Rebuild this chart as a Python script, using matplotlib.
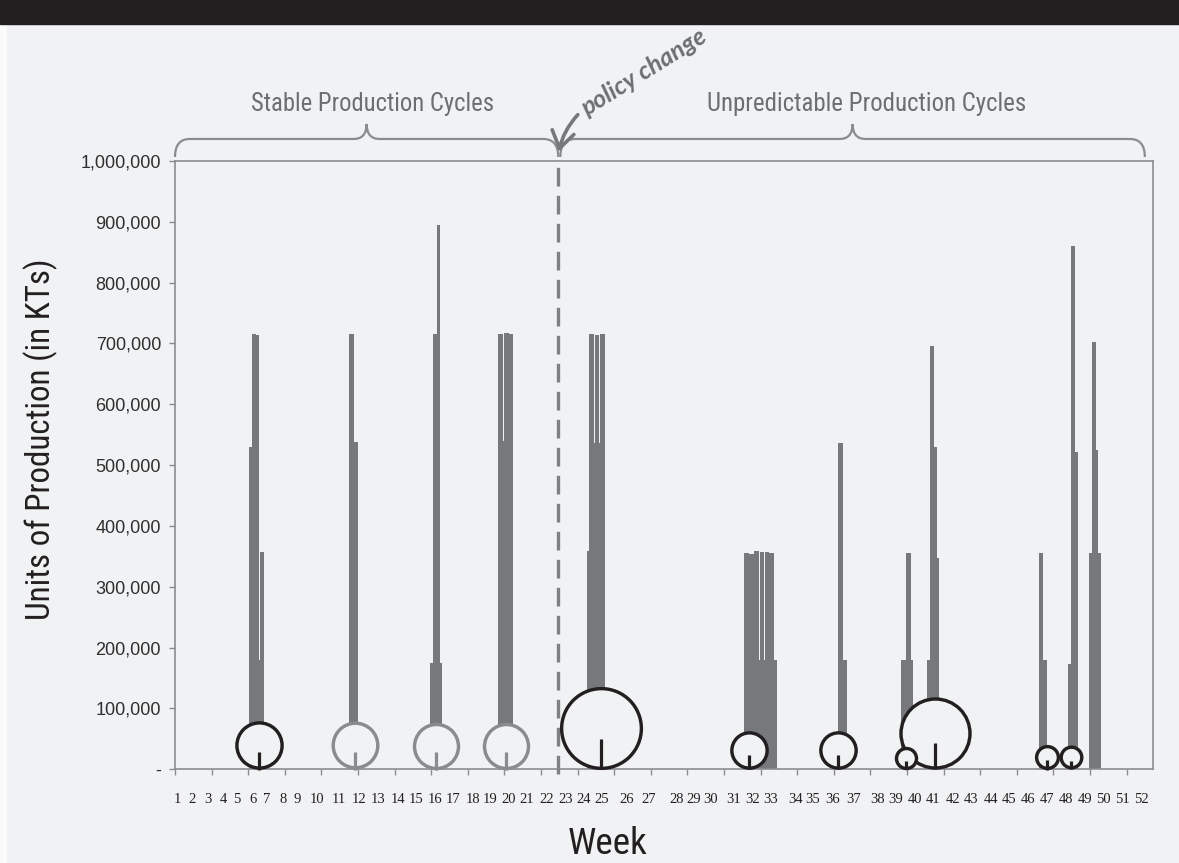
"""Weekly production runs before/after the policy change (needle bars + changeover bubbles)."""

import matplotlib
matplotlib.use("Agg")
import matplotlib.pyplot as plt
import numpy as np
from matplotlib import font_manager as fm
from matplotlib import transforms
from matplotlib.patches import FancyArrowPatch, PathPatch, Rectangle
from matplotlib.path import Path
from matplotlib.ticker import FuncFormatter, MultipleLocator

W, H = 1179, 863
BG = "#f1f2f4"
BAR = "#77787b"
INK = "#231f20"
TXT_GREY = "#6d6e71"
LINE_GREY = "#8b8c8e"
RING_GREY = "#8a8b8d"

# ── data ───────────────────────────────────────────────────────────────────
# production runs: start day, run length (days), units produced
RUN_START = [28.4, 29.55, 30.9, 32.25, 32.6,
             66.7, 68.5,
             97.55, 98.6, 100.1,
             123.7, 123.7, 125.85, 127.6,
             157.5, 158.5, 158.5, 160.65, 162.45,
             217.7, 217.7, 219.65, 221.6, 223.6, 225.7, 227.35,
             253.5, 255.4,
             277.6, 279.6, 287.8, 288.8, 290.4, 291.4,
             330.6, 330.6, 341.7, 342.6, 344.4, 349.8, 350.8, 352.3]
RUN_DAYS = [1.15, 1.35, 1.35, 0.4, 1.55,
            1.8, 1.6,
            4.7, 1.5, 1.3,
            5.75, 1.65, 1.75, 1.8,
            1.0, 5.9, 1.8, 1.55, 1.9,
            12.7, 1.7, 1.7, 1.75, 1.85, 1.4, 1.95,
            1.9, 1.8,
            4.6, 1.8, 4.6, 1.6, 1.0, 1.0,
            2.9, 1.6, 3.8, 1.8, 1.1, 4.3, 1.5, 0.9]
RUN_UNITS = [530000, 716000, 714000, 180000, 358000,
             716000, 538000,
             174000, 716000, 895000,
             540000, 716000, 717000, 716000,
             359000, 537000, 716000, 714000, 716000,
             180000, 356000, 354000, 359000, 358000, 358000, 356000,
             537000, 180000,
             180000, 356000, 180000, 696000, 530000, 348000,
             180000, 356000, 173000, 860000, 522000, 356000, 703000, 525000]

# changeover bubbles: day, relative size, dark ring (False = grey ring)
BUBBLE_DAY = [32.3, 68.8, 99.7, 126.7, 162.8, 219.5, 253.7, 279.6, 290.9, 333.5, 342.7]
BUBBLE_SIZE = [4.1, 4.0, 3.9, 3.9, 12.0, 2.6, 2.6, 0.95, 9.1, 1.1, 1.0]
BUBBLE_DARK = [True, False, False, False, True, True, True, True, True, True, True]

POLICY_DAY = 146.6
YEAR_DAYS = 374

WEEKS = list(range(1, 53))
WEEK_LABEL_DAY = [0.8, 6.5, 12.6, 18.4, 23.7, 29.8, 35.2, 41.3, 46.7, 54.3,
                  62.7, 70.4, 77.7, 85.3, 92.2, 99.5, 106.4, 114.0, 120.5, 127.8,
                  134.7, 142.3, 149.6, 156.5, 163.4, 172.9, 181.1, 191.8, 198.3, 204.9,
                  213.7, 220.8, 227.8, 237.2, 244.1, 251.4, 259.5, 268.6, 275.6, 283.0,
                  290.1, 297.5, 304.7, 312.1, 319.2, 326.3, 333.6, 340.9, 348.2, 355.3,
                  362.4, 369.5]


def fx(px):
    return px / W


def fy(py):
    return 1 - py / H


def condensed_font():
    prefs = ["Liberation Sans Narrow", "Roboto Condensed", "Open Sans Condensed",
             "Noto Sans Condensed", "DejaVu Sans Condensed"]
    cands = [f for f in fm.fontManager.ttflist
             if f.style == "normal" and f.weight in (400, "normal", "regular", "book")]
    for p in prefs:
        for f in cands:
            if f.name == p:
                return fm.FontProperties(fname=f.fname)
    for f in cands:
        if (str(f.stretch) in ("condensed", "semi-condensed", "extra-condensed")
                or "Condensed" in f.name or "Narrow" in f.name):
            return fm.FontProperties(fname=f.fname)
    return fm.FontProperties(family=["Liberation Sans", "DejaVu Sans"])


NARROW = condensed_font()

# ── figure ─────────────────────────────────────────────────────────────────
fig = plt.figure(figsize=(W / 100, H / 100), dpi=100, facecolor=BG)
ax = fig.add_axes([fx(175), fy(769.3), (1152.7 - 175) / W, 608.3 / H], facecolor=BG)

# page edge + black header band
fig.patches.append(Rectangle((0, 0), fx(6), fy(24), transform=fig.transFigure,
                             color="#fbfbfc", zorder=0))
fig.patches.append(Rectangle((0, fy(24)), 1, 24 / H, transform=fig.transFigure,
                             color=INK, zorder=0))

ax.bar(RUN_START, RUN_UNITS, width=RUN_DAYS, align="edge", color=BAR,
       linewidth=0, zorder=2)

# bubbles sit on the axis; biggest drawn first so small ones stay on top
RING_LW = 2.45  # pt
order = np.argsort(BUBBLE_SIZE)[::-1]
for i in order:
    r_pt = 12 * np.sqrt(BUBBLE_SIZE[i]) * 0.72
    col = INK if BUBBLE_DARK[i] else RING_GREY
    d_pt = 2 * r_pt - RING_LW
    tr = transforms.offset_copy(ax.transData, fig=fig, y=r_pt, units="points")
    ax.scatter([BUBBLE_DAY[i]], [0], s=d_pt ** 2, facecolor=BG, edgecolor=col,
               linewidth=RING_LW, transform=tr, zorder=4, clip_on=False)
    stem = 0.72 * r_pt
    tr2 = transforms.offset_copy(ax.transData, fig=fig, y=stem / 2, units="points")
    ax.plot([BUBBLE_DAY[i]], [0], marker="|", markersize=stem, markeredgewidth=2.3,
            color=col, transform=tr2, zorder=5, clip_on=False)

# policy change divider
ax.plot([POLICY_DAY, POLICY_DAY], [-7000, 1000000], color="#7f8083", lw=2.4,
        dashes=(5.6, 2.8), zorder=3, clip_on=False)

ax.set_xlim(0, YEAR_DAYS)
ax.set_ylim(0, 1000000)

ax.yaxis.set_major_locator(MultipleLocator(100000))
ax.yaxis.set_major_formatter(FuncFormatter(lambda v, _: "-" if v == 0 else f"{int(v):,}"))
ax.tick_params(axis="y", direction="out", length=4, width=1, color=LINE_GREY,
               pad=6, labelsize=13, labelcolor="#2f2f2f")
for lab in ax.get_yticklabels():
    lab.set_fontfamily(["Liberation Sans", "DejaVu Sans"])

ax.set_xticks(WEEK_LABEL_DAY)
ax.set_xticklabels([str(w) for w in WEEKS], fontfamily=["Liberation Serif", "DejaVu Serif"],
                   fontsize=10.5, color=INK)
ax.set_xticks(np.arange(0, YEAR_DAYS, 14), minor=True)
ax.tick_params(axis="x", which="major", length=0, pad=17)
ax.tick_params(axis="x", which="minor", direction="out", length=4, width=1, color=LINE_GREY)

for sp in ax.spines.values():
    sp.set_color(LINE_GREY)
    sp.set_linewidth(1.2)

ylab = fig.text(fx(41), fy(439), "Units of Production (in KTs)", ha="center",
                va="center", fontproperties=NARROW, fontsize=26, color=INK)
xlab = fig.text(fx(608), fy(854), "Week", ha="center", va="baseline",
                fontproperties=NARROW, fontsize=26, color=INK)

# ── braces over the two phases ─────────────────────────────────────────────
brace_tr = transforms.blended_transform_factory(ax.transData, ax.transAxes)


def brace(x0, x1, yb=1.0066, yl=1.0362, yt=1.0609, c=5.7, c2=5.0):
    xm = (x0 + x1) / 2
    verts = [(x0, yb), (x0, yl), (x0 + c, yl), (xm - c2, yl), (xm, yl), (xm, yt),
             (xm, yl), (xm + c2, yl), (x1 - c, yl), (x1, yl), (x1, yb)]
    codes = [Path.MOVETO, Path.CURVE3, Path.CURVE3, Path.LINETO, Path.CURVE3, Path.CURVE3,
             Path.CURVE3, Path.CURVE3, Path.LINETO, Path.CURVE3, Path.CURVE3]
    ax.add_patch(PathPatch(Path(verts, codes), fill=False, edgecolor=LINE_GREY, lw=1.6,
                           transform=brace_tr, clip_on=False))


brace(0, POLICY_DAY)
brace(POLICY_DAY + 0.8, 371)

stable = fig.text(fx(373), fy(111), "Stable Production Cycles", ha="center",
                  va="baseline", fontproperties=NARROW, fontsize=19, color=TXT_GREY)
unpred = fig.text(fx(867), fy(111), "Unpredictable Production Cycles", ha="center",
                  va="baseline", fontproperties=NARROW, fontsize=19, color=TXT_GREY)

arrow = FancyArrowPatch((POLICY_DAY + 8.2, 1.0795), (POLICY_DAY, 1.0110),
                        transform=brace_tr,
                        arrowstyle="->,head_length=0.6,head_width=0.4",
                        mutation_scale=20, lw=2.6, color="#77787b",
                        connectionstyle="arc3,rad=0.15", clip_on=False)
fig.patches.append(arrow)
policy = fig.text(fx(644), fy(72), "policy change", ha="center", va="center",
                  rotation_mode="anchor", fontsize=17, fontweight="bold",
                  fontstyle="italic", color=TXT_GREY, fontfamily=["Lato", "DejaVu Sans"])

# fit the free-standing labels to the widths they take in the original layout
fig.canvas.draw()
rend = fig.canvas.get_renderer()
for txt, target in [(ylab, 362), (xlab, 80), (stable, 243), (unpred, 320), (policy, 143)]:
    cur = txt.get_window_extent(rend).width
    txt.set_fontsize(txt.get_fontsize() * target / cur)
ylab.set_rotation(90)
policy.set_rotation(32)

fig.savefig("out.png", dpi=100, facecolor=BG)
